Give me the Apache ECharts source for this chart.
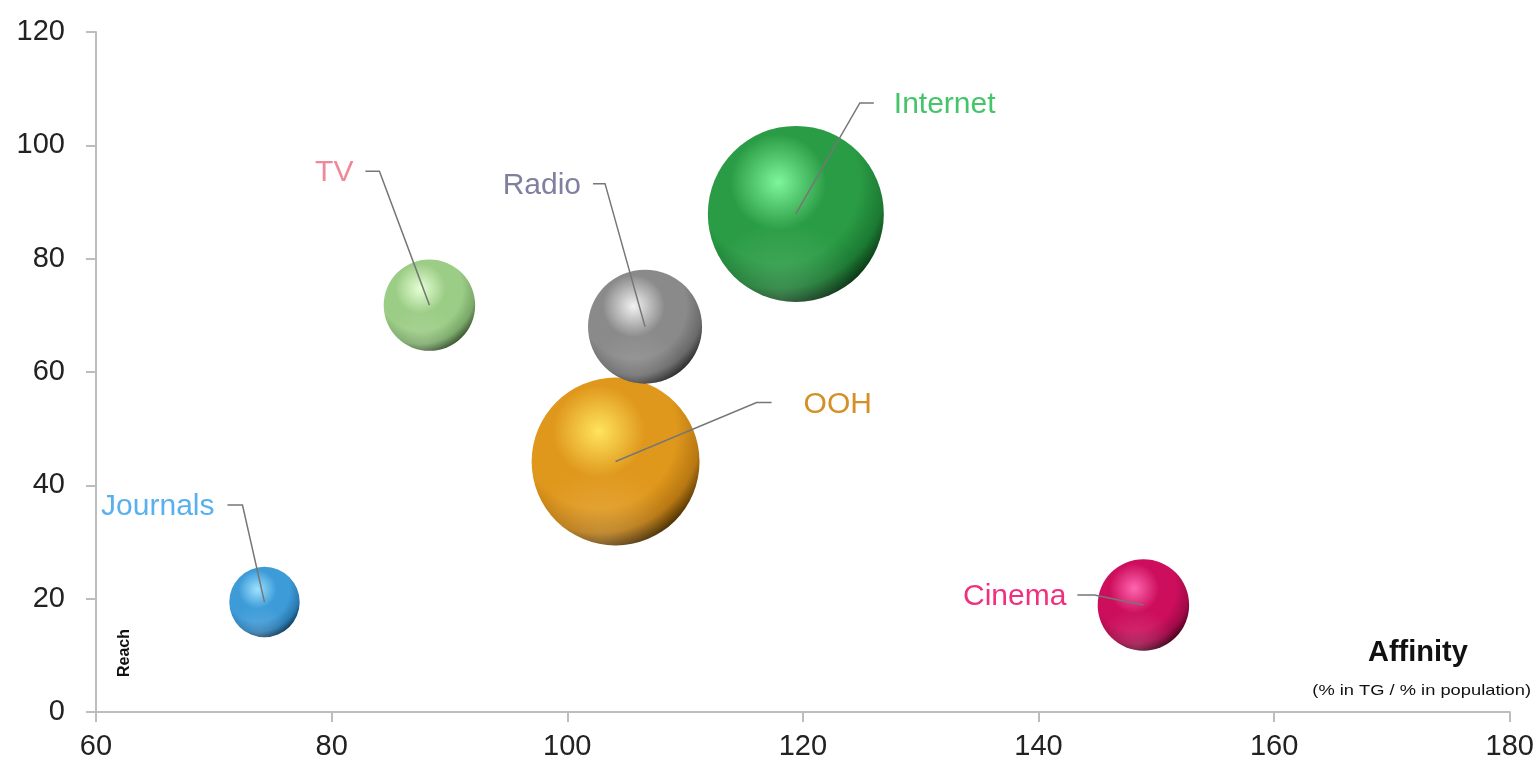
<!DOCTYPE html>
<html>
<head>
<meta charset="utf-8">
<title>Media Affinity vs Reach</title>
<script src="https://cdn.jsdelivr.net/npm/echarts@6/dist/echarts.min.js"></script>
<style>
  html, body { margin: 0; padding: 0; background: #ffffff; }
  #chart { width: 1537px; height: 764px; }
</style>
</head>
<body>
<div id="chart"></div>
<script>
// Media channels: affinity (x), reach (y) and bubble size value
const media      = ['Internet', 'OOH', 'Radio', 'TV', 'Journals', 'Cinema'];
const affinity   = [119.4, 104.1, 106.6, 88.3, 74.3, 148.9];
const reach      = [87.9, 44.2, 68.0, 71.8, 19.4, 18.9];
const bubbleSize = [100, 91, 42, 27, 16, 27];

const xTicks = [60, 80, 100, 120, 140, 160, 180];
const yTicks = [0, 20, 40, 60, 80, 100, 120];

// Sphere shading per channel: [highlight, body, shade, rim]
const sphereColors = {
  Internet: ['#7ff59a', '#2a9c45', '#1c7a33', '#082a10'],
  OOH:      ['#ffe45e', '#e0981c', '#b87812', '#3a2400'],
  Radio:    ['#f2f2f2', '#8a8a8a', '#6a6a6a', '#1e1e1e'],
  TV:       ['#e6ffd6', '#9ccd86', '#7aa868', '#2e4426'],
  Journals: ['#9ee2ff', '#3d9bd8', '#2a7ab2', '#0c3048'],
  Cinema:   ['#ff66b0', '#cc0e5c', '#a00a48', '#3a0018']
};
const labelColors = {
  Internet: '#45c46a', OOH: '#d48f26', Radio: '#80809e',
  TV: '#f0889a', Journals: '#58b0ee', Cinema: '#f0307f'
};
// Leader line geometry in pixels: elbow offset from bubble centre, horizontal run, text gap
const leaderLayout = {
  Internet: { dx: 64,  dy: -111, run: 14,  gap: 20 },
  OOH:      { dx: 141, dy: -59,  run: 15,  gap: 32 },
  Radio:    { dx: -40, dy: -143, run: -12, gap: 12 },
  TV:       { dx: -50, dy: -134, run: -14, gap: 12 },
  Journals: { dx: -22, dy: -97,  run: -15, gap: 13 },
  Cinema:   { dx: -49, dy: -10,  run: -17, gap: 11 }
};

const SIZE_SCALE = 17.6;
const FONT = '"Liberation Sans", Arial, sans-serif';

function sphere(name) {
  const c = sphereColors[name];
  return {
    type: 'radial', x: 0.4, y: 0.32, r: 0.72,
    colorStops: [
      { offset: 0, color: c[0] },
      { offset: 0.38, color: c[1] },
      { offset: 0.64, color: c[1] },
      { offset: 0.84, color: c[2] },
      { offset: 1, color: c[3] }
    ]
  };
}

const points = media.map((m, i) => ({
  name: m,
  value: [affinity[i], reach[i], bubbleSize[i]],
  itemStyle: { color: sphere(m), opacity: 1 }
}));

const chart = echarts.init(document.getElementById('chart'), null, { renderer: 'canvas' });

chart.setOption({
  animation: false,
  backgroundColor: '#ffffff',
  grid: { left: 96, right: 26, top: 32, bottom: 52 },
  xAxis: {
    type: 'value', min: xTicks[0], max: xTicks[xTicks.length - 1], interval: 20,
    splitLine: { show: false },
    axisLine: { show: true, lineStyle: { color: '#bdbdbd', width: 2 } },
    axisTick: { show: true, length: 10, lineStyle: { color: '#bdbdbd', width: 2 } },
    axisLabel: { color: '#222', fontSize: 29, fontFamily: FONT, margin: 20 }
  },
  yAxis: {
    type: 'value', min: yTicks[0], max: yTicks[yTicks.length - 1], interval: 20,
    splitLine: { show: false },
    axisLine: { show: true, lineStyle: { color: '#bdbdbd', width: 2 } },
    axisTick: { show: true, length: 10, lineStyle: { color: '#bdbdbd', width: 2 } },
    axisLabel: { color: '#222', fontSize: 29, fontFamily: FONT, margin: 31 }
  },
  graphic: [
    {
      type: 'text', left: 1368, top: 638,
      style: { text: 'Affinity', font: 'bold 29px ' + FONT, fill: '#111' }
    },
    {
      type: 'text', right: 6, top: 683, scaleX: 1.22,
      style: { text: '(% in TG / % in population)', font: '15px ' + FONT, fill: '#111' }
    },
    {
      type: 'text', left: 117, top: 629, rotation: Math.PI / 2,
      style: { text: 'Reach', font: 'bold 16px ' + FONT, fill: '#111' }
    }
  ],
  series: [
    {
      type: 'scatter',
      data: points,
      symbol: 'circle',
      symbolSize: v => SIZE_SCALE * Math.sqrt(v[2]),
      itemStyle: { opacity: 1 },
      z: 2
    },
    {
      // faint reflected light along the lower part of each sphere
      type: 'scatter',
      silent: true,
      data: points.map(p => ({ name: p.name, value: p.value })),
      symbol: 'circle',
      symbolSize: v => SIZE_SCALE * Math.sqrt(v[2]),
      itemStyle: {
        opacity: 1,
        color: {
          type: 'radial', x: 0.42, y: 0.98, r: 0.45,
          colorStops: [
            { offset: 0, color: 'rgba(255,255,255,0.16)' },
            { offset: 1, color: 'rgba(255,255,255,0)' }
          ]
        }
      },
      z: 3
    },
    {
      type: 'custom',
      silent: true,
      clip: false,
      z: 5,
      data: media.map((m, i) => [affinity[i], reach[i]]),
      renderItem: (params, api) => {
        const name = media[params.dataIndex];
        const lay = leaderLayout[name];
        const c = api.coord([api.value(0), api.value(1)]);
        const elbow = [c[0] + lay.dx, c[1] + lay.dy];
        const end = [elbow[0] + lay.run, elbow[1]];
        const toRight = lay.run > 0;
        return {
          type: 'group',
          children: [
            {
              type: 'polyline',
              shape: { points: [c, elbow, end] },
              style: { stroke: '#767676', lineWidth: 1.5, fill: null }
            },
            {
              type: 'text',
              style: {
                text: name,
                x: end[0] + (toRight ? lay.gap : -lay.gap),
                y: end[1] + 2,
                align: toRight ? 'left' : 'right',
                verticalAlign: 'middle',
                fill: labelColors[name],
                font: '30px ' + FONT
              }
            }
          ]
        };
      }
    }
  ]
});
</script>
</body>
</html>
